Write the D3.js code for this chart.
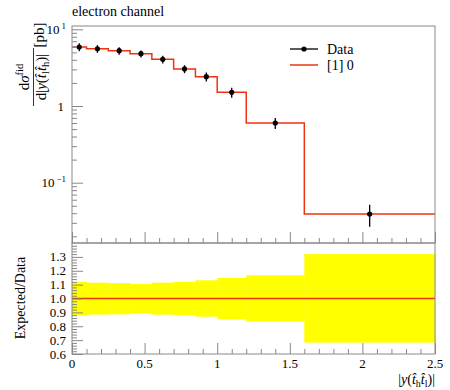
<!DOCTYPE html>
<meta charset="utf-8" />
<title>electron channel</title>
<style>
  body { margin: 0; background: #fff; }
  svg { display: block; font-family: 'Liberation Serif', serif; }
  svg text { font-family: 'Liberation Serif', serif; fill: #000; }
</style>
<body>
<svg width="450" height="390" font-family="Liberation Serif"></svg>
<script src="https://d3js.org/d3.v7.min.js"></script>
<script>
  // bin edges in |y(tt)|
  const edges = [0, 0.1, 0.25, 0.4, 0.55, 0.7, 0.85, 1.0, 1.2, 1.6, 2.5];
  // measured cross section per bin [pb] (prediction equals data here)
  const values = [5.88, 5.58, 5.26, 4.81, 4.06, 3.04, 2.41, 1.51, 0.60, 0.039];
  // relative data uncertainty, up and down
  const errUp = [0.119, 0.114, 0.111, 0.104, 0.114, 0.119, 0.131, 0.148, 0.167, 0.32];
  const errDown = [0.121, 0.116, 0.114, 0.107, 0.116, 0.119, 0.131, 0.150, 0.165, 0.318];
  const ratio = [1, 1, 1, 1, 1, 1, 1, 1, 1, 1];

  const xTicks = [0, 0.5, 1, 1.5, 2, 2.5];
  const xTickLabels = ["0", "0.5", "1", "1.5", "2", "2.5"];
  const ratioTicks = [0.6, 0.7, 0.8, 0.9, 1.0, 1.1, 1.2, 1.3];

  const red = "#ee3311";
  const frame = "#888";
  const svg = d3.select("svg");

  const L = 72, R = 435, T = 26, M = 243, B = 354;

  const x = d3.scaleLinear().domain([0, 2.5]).range([L, R]);
  const y = d3.scaleLog().domain([Math.pow(10, -1.786), Math.pow(10, 1.043)]).range([M, T]);
  const yr = d3.scaleLinear().domain([0.6, 1.4]).range([B, M]);

  const bins = values.map((v, i) => ({
    x0: edges[i], x1: edges[i + 1], xc: (edges[i] + edges[i + 1]) / 2,
    v: v, up: errUp[i], dn: errDown[i], r: ratio[i]
  }));

  // ratio band
  svg.append("g").selectAll("rect")
    .data(bins)
    .enter()
    .append("rect")
    .attr("x", d => x(d.x0))
    .attr("width", d => x(d.x1) - x(d.x0) + 0.5)
    .attr("y", d => yr(1 + d.up))
    .attr("height", d => yr(1 - d.dn) - yr(1 + d.up))
    .attr("fill", "#ffff00");

  // step line helper
  function stepPath(sc, acc) {
    let p = "";
    bins.forEach((d, i) => {
      const yy = sc(acc(d));
      p += (i === 0 ? "M" : "L") + x(d.x0) + "," + yy + "L" + x(d.x1) + "," + yy;
    });
    return p;
  }

  svg.append("path")
    .attr("d", stepPath(yr, d => d.r))
    .attr("fill", "none").attr("stroke", red).attr("stroke-width", 1.6);

  svg.append("path")
    .attr("d", stepPath(y, d => d.v))
    .attr("fill", "none").attr("stroke", red).attr("stroke-width", 1.5);

  // data points with error bars
  const pts = svg.append("g");
  pts.selectAll("line")
    .data(bins)
    .enter()
    .append("line")
    .attr("x1", d => x(d.xc)).attr("x2", d => x(d.xc))
    .attr("y1", d => y(d.v * (1 + d.up)))
    .attr("y2", d => y(d.v * (1 - d.dn)))
    .attr("stroke", "#000").attr("stroke-width", 1.3);
  pts.selectAll("circle")
    .data(bins)
    .enter()
    .append("circle")
    .attr("cx", d => x(d.xc)).attr("cy", d => y(d.v))
    .attr("r", 2.6).attr("fill", "#000");

  // inward ticks
  const minorX = d3.range(0, 2.51, 0.1).filter(v => Math.abs(v * 2 - Math.round(v * 2)) > 1e-6);

  function xAxisTicks(yBase) {
    const g = svg.append("g").attr("transform", `translate(0,${yBase})`);
    g.call(d3.axisBottom(x).tickValues(xTicks).tickSize(-11).tickFormat(""));
    g.append("g").call(d3.axisBottom(x).tickValues(minorX).tickSize(-5).tickFormat(""));
    g.selectAll(".domain").remove();
    g.selectAll("line").attr("stroke", frame);
    return g;
  }
  xAxisTicks(M);
  xAxisTicks(B);

  svg.selectAll("text.xtick")
    .data(xTicks)
    .enter()
    .append("text")
    .attr("class", "xtick")
    .attr("x", d => x(d))
    .attr("y", 368)
    .attr("text-anchor", "middle")
    .attr("font-size", 13)
    .text((d, i) => xTickLabels[i]);

  // log y axis
  const majorY = [0.1, 1, 10];
  const minorY = [];
  [0.01, 0.1, 1].forEach(dec => {
    for (let k = 2; k <= 9; k++) {
      const v = dec * k;
      if (v > y.domain()[0] && v < y.domain()[1]) minorY.push(v);
    }
  });
  const gy = svg.append("g").attr("transform", `translate(${L},0)`);
  gy.call(d3.axisLeft(y).tickValues(majorY).tickSize(-11).tickFormat(""));
  gy.append("g").call(d3.axisLeft(y).tickValues(minorY).tickSize(-5).tickFormat(""));
  gy.selectAll(".domain").remove();
  gy.selectAll("line").attr("stroke", frame);

  const yLab = svg.append("g");
  const t10 = yLab.append("text").attr("x", 66).attr("y", y(10) + 4.5)
    .attr("text-anchor", "end").attr("font-size", 13);
  t10.append("tspan").text("10");
  t10.append("tspan").attr("dy", -5).attr("font-size", 9).attr("dx", 2).text("1");
  yLab.append("text").attr("x", 64).attr("y", y(1) + 4.5)
    .attr("text-anchor", "end").attr("font-size", 13).text("1");
  const t01 = yLab.append("text").attr("x", 66).attr("y", y(0.1) + 4.5)
    .attr("text-anchor", "end").attr("font-size", 13);
  t01.append("tspan").text("10");
  t01.append("tspan").attr("dy", -5).attr("font-size", 9).attr("dx", 2).text("\u22121");

  // ratio y axis
  const minorR = d3.range(0.6, 1.401, 0.02).filter(v => Math.abs(v * 10 - Math.round(v * 10)) > 1e-6);
  const gr = svg.append("g").attr("transform", `translate(${L},0)`);
  gr.call(d3.axisLeft(yr).tickValues(ratioTicks).tickSize(-11).tickFormat(""));
  gr.append("g").call(d3.axisLeft(yr).tickValues(minorR).tickSize(-5).tickFormat(""));
  gr.selectAll(".domain").remove();
  gr.selectAll("line").attr("stroke", frame);

  svg.selectAll("text.rtick")
    .data(ratioTicks)
    .enter()
    .append("text")
    .attr("class", "rtick")
    .attr("x", 66)
    .attr("y", d => yr(d) + 4.5)
    .attr("text-anchor", "end")
    .attr("font-size", 13)
    .text(d => d.toFixed(1));

  // frames
  [[T, M], [M, B]].forEach(([a, b]) => {
    svg.append("rect")
      .attr("x", L).attr("y", a).attr("width", R - L).attr("height", b - a)
      .attr("fill", "none").attr("stroke", frame).attr("stroke-width", 1);
  });

  // title
  svg.append("text").attr("x", 72).attr("y", 16).attr("font-size", 14).text("electron channel");

  // legend
  const lg = svg.append("g");
  lg.append("line").attr("x1", 290).attr("x2", 318).attr("y1", 49).attr("y2", 49)
    .attr("stroke", "#000").attr("stroke-width", 1.3);
  lg.append("circle").attr("cx", 304).attr("cy", 49).attr("r", 2.6).attr("fill", "#000");
  lg.append("text").attr("x", 327).attr("y", 53.5).attr("font-size", 14).text("Data");
  lg.append("line").attr("x1", 290).attr("x2", 318).attr("y1", 65).attr("y2", 65)
    .attr("stroke", red).attr("stroke-width", 1.5);
  lg.append("text").attr("x", 327).attr("y", 69.5).attr("font-size", 14).text("[1] 0");

  // y label of top panel
  const yl = svg.append("g").attr("transform", "rotate(-90)").attr("font-size", 15);
  const num = yl.append("text").attr("x", -77).attr("y", 29).attr("text-anchor", "middle");
  num.append("tspan").text("d");
  num.append("tspan").attr("font-style", "italic").text("\u03c3");
  num.append("tspan").attr("dy", -6).attr("font-size", 10.5).text("fid");
  yl.append("line").attr("x1", -106).attr("x2", -48).attr("y1", 33.5).attr("y2", 33.5)
    .attr("stroke", "#000").attr("stroke-width", 0.8);
  const den = yl.append("text").attr("x", -77).attr("y", 46).attr("text-anchor", "middle");
  den.append("tspan").text("d|");
  den.append("tspan").attr("font-style", "italic").text("y");
  den.append("tspan").text("(");
  den.append("tspan").attr("font-style", "italic").text("t\u0302");
  den.append("tspan").attr("dy", 3).attr("font-size", 10.5).text("l");
  den.append("tspan").attr("dy", -3).attr("font-style", "italic").text("t\u0302");
  den.append("tspan").attr("dy", 3).attr("font-size", 10.5).text("h");
  den.append("tspan").attr("dy", -3).text(")|");
  yl.append("text").attr("x", -35).attr("y", 44).attr("text-anchor", "middle").text("[pb]");

  // y label of ratio panel
  svg.append("text")
    .attr("transform", "translate(25,298) rotate(-90)")
    .attr("text-anchor", "middle")
    .attr("font-size", 14)
    .text("Expected/Data");

  // x label
  const xl = svg.append("text").attr("x", 435).attr("y", 384).attr("text-anchor", "end").attr("font-size", 14);
  xl.append("tspan").text("|");
  xl.append("tspan").attr("font-style", "italic").text("y");
  xl.append("tspan").text("(");
  xl.append("tspan").attr("font-style", "italic").text("t\u0302");
  xl.append("tspan").attr("dy", 3).attr("font-size", 10).text("h");
  xl.append("tspan").attr("dy", -3).attr("font-style", "italic").text("t\u0302");
  xl.append("tspan").attr("dy", 3).attr("font-size", 10).text("l");
  xl.append("tspan").attr("dy", -3).text(")|");
</script>
</body>
